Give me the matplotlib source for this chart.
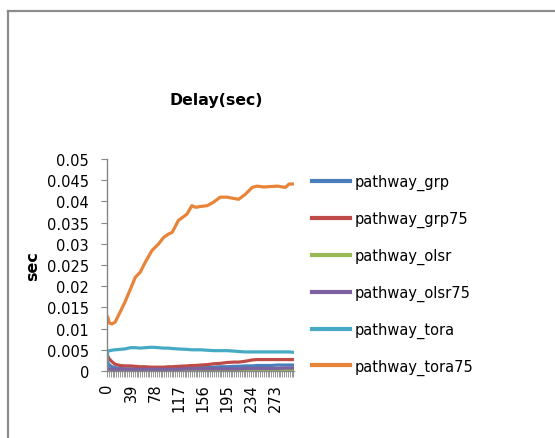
import matplotlib
matplotlib.use("Agg")
import matplotlib.pyplot as plt
from matplotlib.lines import Line2D
from matplotlib.ticker import MultipleLocator

plt.rcParams['font.family'] = ['DejaVu Sans']

# categories (sample points)
cats = [0, 1, 2, 4, 8, 13, 21, 29, 38, 46, 54, 62, 73, 84, 92, 100, 106, 116,
        130, 138, 144, 152, 163, 173, 184, 195, 206, 214, 225, 236, 244, 255,
        266, 277, 290, 296, 304]

grp = [0.0030, 0.0022, 0.0018, 0.0014, 0.0010, 0.0008, 0.0006, 0.0005, 0.0005,
       0.0005, 0.0005, 0.0005, 0.0005, 0.0005, 0.0006, 0.0006, 0.0006, 0.0007,
       0.0007, 0.0008, 0.0008, 0.0008, 0.0009, 0.0009, 0.0010, 0.0010, 0.0011,
       0.0011, 0.0012, 0.0012, 0.0013, 0.0013, 0.0013, 0.0014, 0.0014, 0.0014,
       0.0014]
grp75 = [0.0042, 0.0036, 0.0033, 0.0028, 0.0022, 0.0016, 0.0013, 0.0012, 0.0012,
         0.0011, 0.0010, 0.0010, 0.0009, 0.0009, 0.0009, 0.0010, 0.0010, 0.0011,
         0.0012, 0.0013, 0.0013, 0.0014, 0.0015, 0.0017, 0.0018, 0.0020, 0.0021,
         0.0021, 0.0023, 0.0026, 0.0027, 0.0027, 0.0027, 0.0027, 0.0027, 0.0027,
         0.0027]
olsr = [0.0002, 0.0001, 0.0001, 0.0001, 0.0001, 0.0001, 0.0001, 0.0001, 0.0001,
        0.0001, 0.0001, 0.0001, 0.0001, 0.0001, 0.0001, 0.0001, 0.0001, 0.0001,
        0.0001, 0.0001, 0.0001, 0.0001, 0.0001, 0.0001, 0.0001, 0.0001, 0.0001,
        0.0001, 0.0001, 0.0001, 0.0002, 0.0002, 0.0002, 0.0002, 0.0002, 0.0002,
        0.0002]
olsr75 = [0.0012, 0.0008, 0.0006, 0.0005, 0.0004, 0.0004, 0.0004, 0.0004, 0.0004,
          0.0004, 0.0004, 0.0004, 0.0004, 0.0004, 0.0004, 0.0004, 0.0004, 0.0004,
          0.0005, 0.0005, 0.0005, 0.0005, 0.0005, 0.0005, 0.0005, 0.0005, 0.0005,
          0.0005, 0.0006, 0.0006, 0.0006, 0.0006, 0.0006, 0.0006, 0.0007, 0.0007,
          0.0007]
tora = [0.0010, 0.0046, 0.0048, 0.0048, 0.0049, 0.0050, 0.0051, 0.0052, 0.0055,
        0.0055, 0.0054, 0.0055, 0.0056, 0.0055, 0.0054, 0.0054, 0.0053, 0.0052,
        0.0051, 0.0050, 0.0050, 0.0050, 0.0049, 0.0048, 0.0048, 0.0048, 0.0047,
        0.0046, 0.0045, 0.0045, 0.0045, 0.0045, 0.0045, 0.0045, 0.0045, 0.0045,
        0.0044]
tora75 = [0.0123, 0.0128, 0.0122, 0.0113, 0.0111, 0.0115, 0.0138, 0.0162, 0.0193,
          0.0221, 0.0233, 0.0256, 0.0284, 0.0300, 0.0315, 0.0323, 0.0327, 0.0355,
          0.0370, 0.0390, 0.0386, 0.0388, 0.0390, 0.0398, 0.0410, 0.0410, 0.0407,
          0.0405, 0.0417, 0.0433, 0.0436, 0.0434, 0.0435, 0.0436, 0.0433, 0.0441,
          0.0441]

names = ['pathway_grp', 'pathway_grp75', 'pathway_olsr', 'pathway_olsr75',
         'pathway_tora', 'pathway_tora75']
series = [grp, grp75, olsr, olsr75, tora, tora75]
colors = ['#4A7EBB', '#BE4B48', '#98B954', '#7D60A0', '#46AAC5', '#E8843A']

xtick_vals = [0, 39, 78, 117, 156, 195, 234, 273]
ytick_vals = [0, 0.005, 0.01, 0.015, 0.02, 0.025, 0.03, 0.035, 0.04, 0.045, 0.05]
ytick_labels = ['0', '0.005', '0.01', '0.015', '0.02', '0.025', '0.03', '0.035',
                '0.04', '0.045', '0.05']

W, H = 555, 439
fig = plt.figure(figsize=(W / 100, H / 100), dpi=100)
ax = fig.add_axes([107 / W, 1 - 372 / H, (294 - 107) / W, (372 - 160) / H])

for name, vals, c in zip(names, series, colors):
    ax.plot(cats, vals, color=c, lw=2.3, label=name, solid_joinstyle='round')

ax.set_xlim(0, 304)
ax.set_ylim(0, 0.05)
ax.set_yticks(ytick_vals)
ax.set_yticklabels(ytick_labels)
ax.set_xticks(xtick_vals)
ax.set_xticklabels([str(v) for v in xtick_vals], rotation=90)
ax.xaxis.set_minor_locator(MultipleLocator(3))

gray = '#868686'
for s in ['top', 'right']:
    ax.spines[s].set_visible(False)
for s in ['left', 'bottom']:
    ax.spines[s].set_color(gray)
    ax.spines[s].set_linewidth(1.0)
ax.tick_params(axis='y', which='major', length=4.5, color=gray, pad=8.5,
               labelsize=10.5, labelcolor='#000000')
ax.tick_params(axis='x', which='both', length=4.5, color=gray, pad=4,
               labelsize=10.5, labelcolor='#000000', width=0.6)

ax.set_ylabel('sec', fontsize=11.5, fontweight='bold')
ax.yaxis.set_label_coords(-0.36, 0.5)
fig.text(216 / W, 1 - 100 / H, 'Delay(sec)', fontsize=11.3, fontweight='bold',
         ha='center', va='center')

leg = ax.legend(loc='upper left', bbox_to_anchor=(312 / W, 1 - 175 / H),
                bbox_transform=fig.transFigure, frameon=False, fontsize=10.5,
                handlelength=2.6, handletextpad=0.3, labelspacing=1.42,
                borderpad=0, borderaxespad=0)
for line in leg.get_lines():
    line.set_linewidth(3)

# outer chart border
fig.add_artist(Line2D([7.5 / W, 7.5 / W], [-0.1, 1 - 12 / H], color='#8C8C8C', lw=1.6))
fig.add_artist(Line2D([7.5 / W, 1.1], [1 - 12 / H, 1 - 12 / H], color='#8C8C8C', lw=1.6))

fig.savefig('out.png', dpi=100)
